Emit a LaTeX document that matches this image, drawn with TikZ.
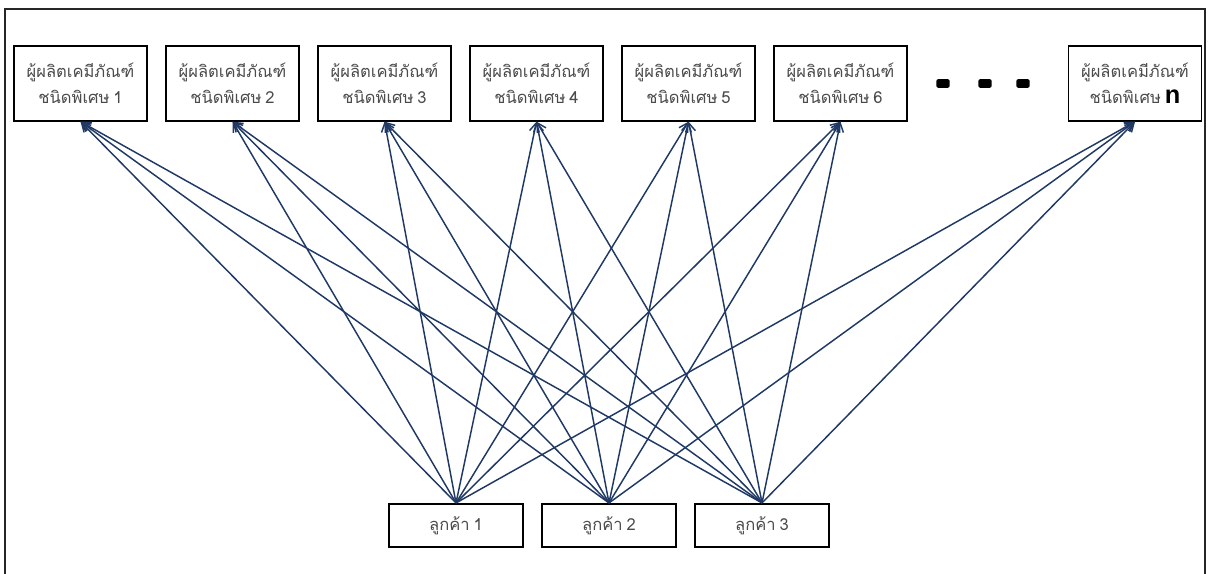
\documentclass[tikz,border=0pt]{standalone}
\usepackage{fontspec}
\newfontfamily\thaifont[Script=Thai,WordSpace=0.7]{Loma}
\newfontfamily\latinfont{Liberation Sans}
\usepackage{tikz}
\usetikzlibrary{arrows.meta}
\usetikzlibrary{positioning}
\definecolor{linkblue}{RGB}{31,56,100}
\definecolor{textgray}{RGB}{75,75,75}
\tikzset{>={Straight Barb[length=6.5pt,width=7.5pt]}}

\begin{document}
\begin{tikzpicture}[supplier/.style={draw,line width=1.3pt,rectangle,minimum width=99.75pt,minimum height=56pt,inner sep=0pt,align=center,font=\thaifont\fontsize{12.4}{19.5}\selectfont,text=textgray},
                    customer/.style={draw,line width=1.3pt,rectangle,minimum width=100.5pt,minimum height=32.5pt,inner sep=0pt,font=\thaifont\fontsize{12.4}{19.5}\selectfont,text=textgray},
                    dot/.style={fill=black,rounded corners=1.5pt,minimum width=10pt,minimum height=6.5pt,inner sep=0pt},
                    link/.style={->,linkblue,line width=1.1pt},
                    node distance=12.95pt]

\useasboundingbox (0,0) rectangle (909.75pt,-430.5pt);
\draw [line width=0.8pt,black!85] (3.75pt,-430.5pt) -- (3.75pt,-6.75pt) -- (903.75pt,-6.75pt) -- (903.75pt,-430.5pt);

\node (sup1) [supplier] at (60.4pt,-62.6pt) {ผู้ผลิตเคมีภัณฑ์\\ชนิดพิเศษ 1};
\node (sup2) [supplier,right=of sup1] {ผู้ผลิตเคมีภัณฑ์\\ชนิดพิเศษ 2};
\node (sup3) [supplier,right=of sup2] {ผู้ผลิตเคมีภัณฑ์\\ชนิดพิเศษ 3};
\node (sup4) [supplier,right=of sup3] {ผู้ผลิตเคมีภัณฑ์\\ชนิดพิเศษ 4};
\node (sup5) [supplier,right=of sup4] {ผู้ผลิตเคมีภัณฑ์\\ชนิดพิเศษ 5};
\node (sup6) [supplier,right=of sup5] {ผู้ผลิตเคมีภัณฑ์\\ชนิดพิเศษ 6};
\node (supn) [supplier] at (851.25pt,-62.6pt) {ผู้ผลิตเคมีภัณฑ์\\ชนิดพิเศษ {\latinfont\bfseries\fontsize{19}{19.5}\selectfont\color{black}n}};

\node (dot1) [dot] at (707.25pt,-62.6pt) {};
\node (dot2) [dot] at (738.75pt,-62.6pt) {};
\node (dot3) [dot] at (767.25pt,-62.6pt) {};

\node (cust1) [customer] at (342pt,-394.1pt) {ลูกค้า 1};
\node (cust2) [customer,right=of cust1] {ลูกค้า 2};
\node (cust3) [customer,right=of cust2] {ลูกค้า 3};

\foreach \c in {cust1,cust2,cust3}
  \foreach \s in {sup1,sup2,sup3,sup4,sup5,sup6,supn}
    \draw [link] (\c.north) -- (\s.south);

\end{tikzpicture}
\end{document}
